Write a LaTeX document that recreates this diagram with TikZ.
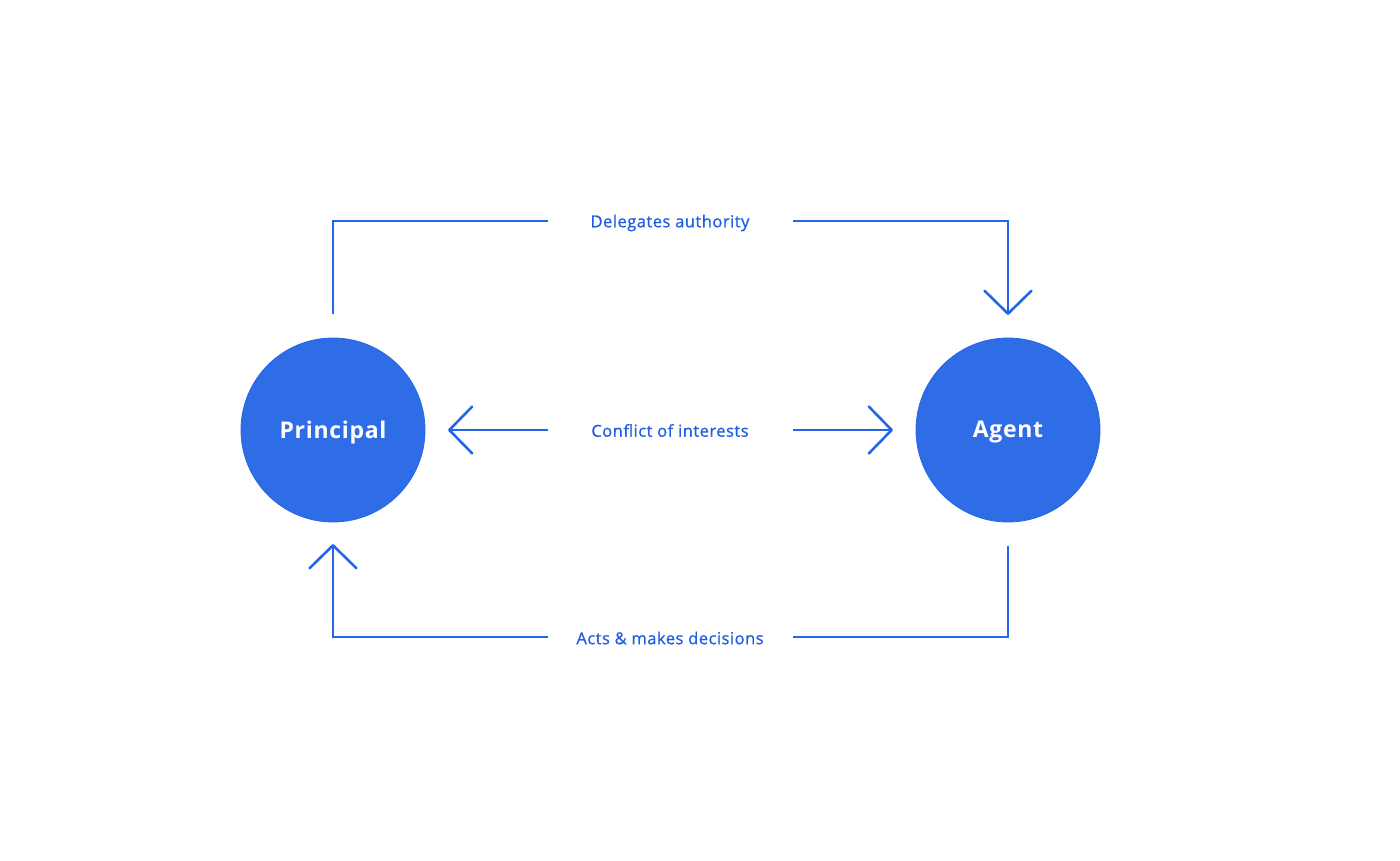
\documentclass[tikz,border=0pt]{standalone}
\usepackage{fontspec}
\setmainfont{Open Sans}[LetterSpace=3]
\usetikzlibrary{arrows.meta}
\definecolor{fillblue}{HTML}{2F6DE6}
\definecolor{lineblue}{HTML}{2566E8}
\definecolor{textblue}{HTML}{1F5DE3}
\newcommand{\partytext}[1]{\raisebox{-2.5pt}[\height][\depth]{#1}}
\tikzset{
  party/.style={circle, fill=fillblue, draw=lineblue, line width=0.8pt, minimum size=184pt, inner sep=0pt, text=white, font=\fontsize{23}{26}\selectfont\bfseries},
  lbl/.style={text=textblue, font=\fontsize{16.5}{19}\selectfont\addfontfeatures{FakeBold=0.8}, inner sep=0pt},
  conn/.style={draw=lineblue, line width=2.6pt, line join=miter},
  tip/.style={conn, -{Straight Barb[length=23pt, width=47pt, line width=2.6pt, round]}},
}
\begin{document}
\begin{tikzpicture}[x=1pt, y=-1pt]
  \useasboundingbox (0,0) rectangle (1400,860);
  \node[party] (P) at (333,430) {\partytext{Principal}};
  \node[party] (A) at (1008,430) {\partytext{Agent}};
  \node[lbl] (L1) at (670,223) {Delegates authority};
  \node[lbl] (L2) at (670,430.5) {Conflict of interests};
  \node[lbl] (L3) at (670,638) {Acts \& makes decisions};
  \coordinate (t0) at (333,314);
  \coordinate (t1) at (548,221);
  \coordinate (t2) at (793,221);
  \coordinate (t3) at (1008,315);
  \coordinate (m1) at (548,430);
  \coordinate (m2) at (448,430);
  \coordinate (m3) at (793,430);
  \coordinate (m4) at (893,430);
  \coordinate (b0) at (1008,546);
  \coordinate (b1) at (793,637);
  \coordinate (b2) at (548,637);
  \coordinate (b3) at (333,544);
  \draw[conn] (t0) |- (t1);
  \draw[tip] (t2) -| (t3);
  \draw[tip] (m1) -- (m2);
  \draw[tip] (m3) -- (m4);
  \draw[conn] (b0) |- (b1);
  \draw[tip] (b2) -| (b3);
\end{tikzpicture}
\end{document}
